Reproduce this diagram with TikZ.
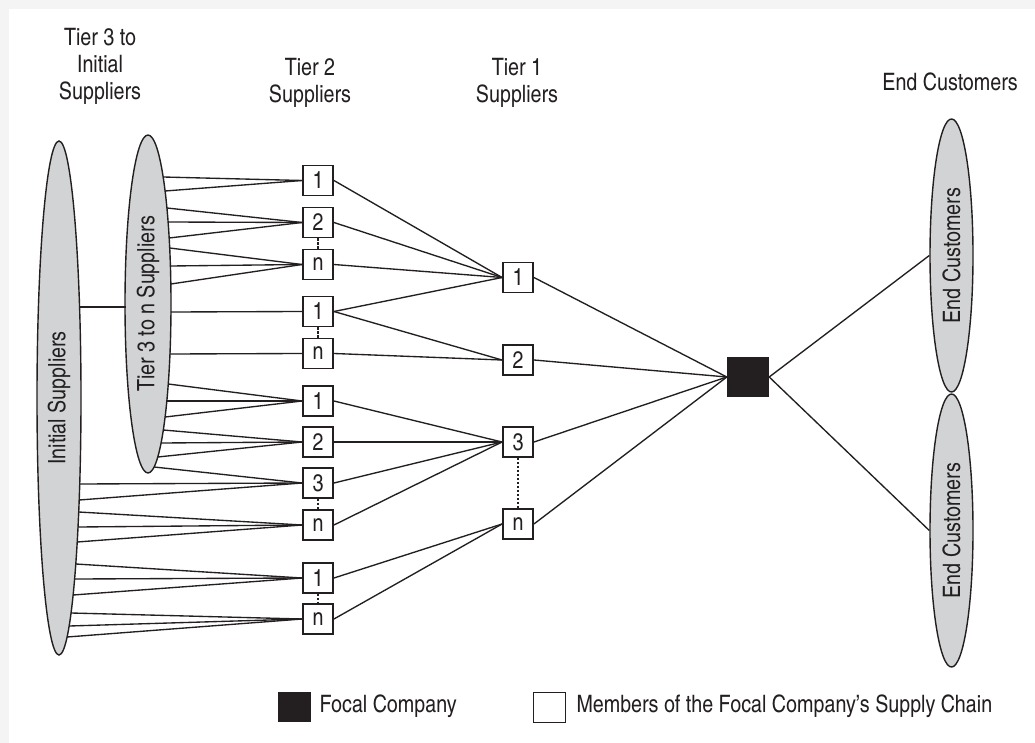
\documentclass[tikz,border=0pt]{standalone}
\usepackage{fontspec}
\setmainfont{TeX Gyre Heros Cn}
\usetikzlibrary{shapes.geometric}
\definecolor{ink}{HTML}{231F20}
\definecolor{ellgray}{HTML}{D1D3D4}
\definecolor{edgegray}{HTML}{F4F4F4}
\newcommand\myfs{\fontsize{24}{27}\selectfont}
\tikzset{
  box/.style={draw=ink, fill=white, line width=1.9pt, minimum size=30pt, inner sep=0pt, font=\myfs, text=ink},
  ell/.style={ellipse, draw=ink, fill=ellgray, line width=1.4pt, inner sep=0pt, rotate=90, font=\myfs, text=ink},
  link/.style={draw=ink, line width=1.35pt},
  dots/.style={draw=ink, line width=1.7pt, dash pattern=on 2.5pt off 1.5pt},
  lbl/.style={align=center, font=\myfs, text=ink},
  focal/.style={fill=ink, minimum width=42pt, minimum height=40pt, inner sep=0pt},
}
\begin{document}
\begin{tikzpicture}[x=1pt,y=-1pt]
\useasboundingbox (0,0) rectangle (1035,743);
\fill[edgegray] (0,0) rectangle (1035,743);
\fill[white] (9,9) rectangle (1035,743);

% headings
\node[lbl] (h3) at (100,66) {Tier 3 to\\Initial\\Suppliers};
\node[lbl] (h2) at (310,83) {Tier 2\\Suppliers};
\node[lbl] (h1) at (517,83) {Tier 1\\Suppliers};
\node[lbl] (hc) at (950,82) {End Customers};

% ellipses
\node[ell, minimum width=514pt, minimum height=44pt] (init) at (59,398) {Initial Suppliers};
\node[ell, minimum width=338pt, minimum height=46pt] (t3) at (148,304) {Tier 3 to n Suppliers};
\node[ell, minimum width=273pt, minimum height=43pt] (ec1) at (951.5,255.5) {End Customers};
\node[ell, minimum width=273pt, minimum height=43pt] (ec2) at (951.5,530.5) {End Customers};

% tier 2 boxes
\node[box] (a1) at (318,180.5) {1};
\node[box] (a2) at (318,222.5) {2};
\node[box] (an) at (318,264.5) {n};
\node[box] (b1) at (318,311.5) {1};
\node[box] (bn) at (318,353.5) {n};
\node[box] (c1) at (318,401) {1};
\node[box] (c2) at (318,442) {2};
\node[box] (c3) at (318,483) {3};
\node[box] (cn) at (318,525) {n};
\node[box] (d1) at (318,578) {1};
\node[box] (dn) at (318,619) {n};

% tier 1 boxes
\node[box] (s1) at (518,277.5) {1};
\node[box] (s2) at (518,360) {2};
\node[box] (s3) at (518,442) {3};
\node[box] (sn) at (518,524) {n};

% focal company
\node[focal] (fc) at (748,377) {};

% dotted links
\draw[dots] (a2.south) -- (an.north);
\draw[dots] (b1.south) -- (bn.north);
\draw[dots] (c3.south) -- (cn.north);
\draw[dots] (d1.south) -- (dn.north);
\draw[dots] (s3.south) -- (sn.north);

% initial to tier 3 link
\pgfmathsetmacro\xa{59+22*sqrt(1-((307-398)/257)^2)}
\coordinate (ip) at (\xa,307);
\coordinate (tp) at (125.5,307);
\draw[link] (ip) -- (tp);

% fans from tier 3 ellipse
\foreach \yy/\tg in {177/a1,191/a1,208/a2,222/a2,238/a2,248/an,266/an,284/an,312/b1,354/bn,384/c1,401/c1,417/c1,430/c2,443/c2,457/c2,467/c3}{
  \pgfmathsetmacro\xx{148+23*sqrt(1-((\yy-304)/169)^2)}
  \coordinate (q) at (\xx,\yy);
  \draw[link] (q) -- (\tg.west);
}
% fans from initial suppliers ellipse
\foreach \yy/\tg in {484/c3,500/c3,512/cn,527/cn,542/cn,564/d1,579/d1,595/d1,613/dn,626/dn,637/dn}{
  \pgfmathsetmacro\xx{59+22*sqrt(1-((\yy-398)/257)^2)}
  \coordinate (q) at (\xx,\yy);
  \draw[link] (q) -- (\tg.west);
}

% tier 2 to tier 1
\foreach \a/\b in {a1/s1,a2/s1,an/s1,b1/s1,b1/s2,bn/s2,c1/s3,c2/s3,c3/s3,cn/s3,d1/sn,dn/sn}{
  \draw[link] (\a.east) -- (\b.west);
}
% tier 1 to focal
\foreach \a in {s1,s2,s3,sn}{
  \draw[link] (\a.east) -- (fc.west);
}
% focal to customers
\draw[link] (fc.east) -- (ec1.north);
\draw[link] (fc.east) -- (ec2.north);

% legend
\node[focal, minimum width=33pt, minimum height=30pt] (lk) at (294.5,707) {};
\node[lbl, anchor=west] (lkt) at (316,706) {Focal Company};
\node[box, minimum width=32pt, minimum height=30pt] (lw) at (549.5,707.5) {};
\node[lbl, anchor=west] (lwt) at (573,706) {Members of the Focal Company’s Supply Chain};
\end{tikzpicture}
\end{document}
